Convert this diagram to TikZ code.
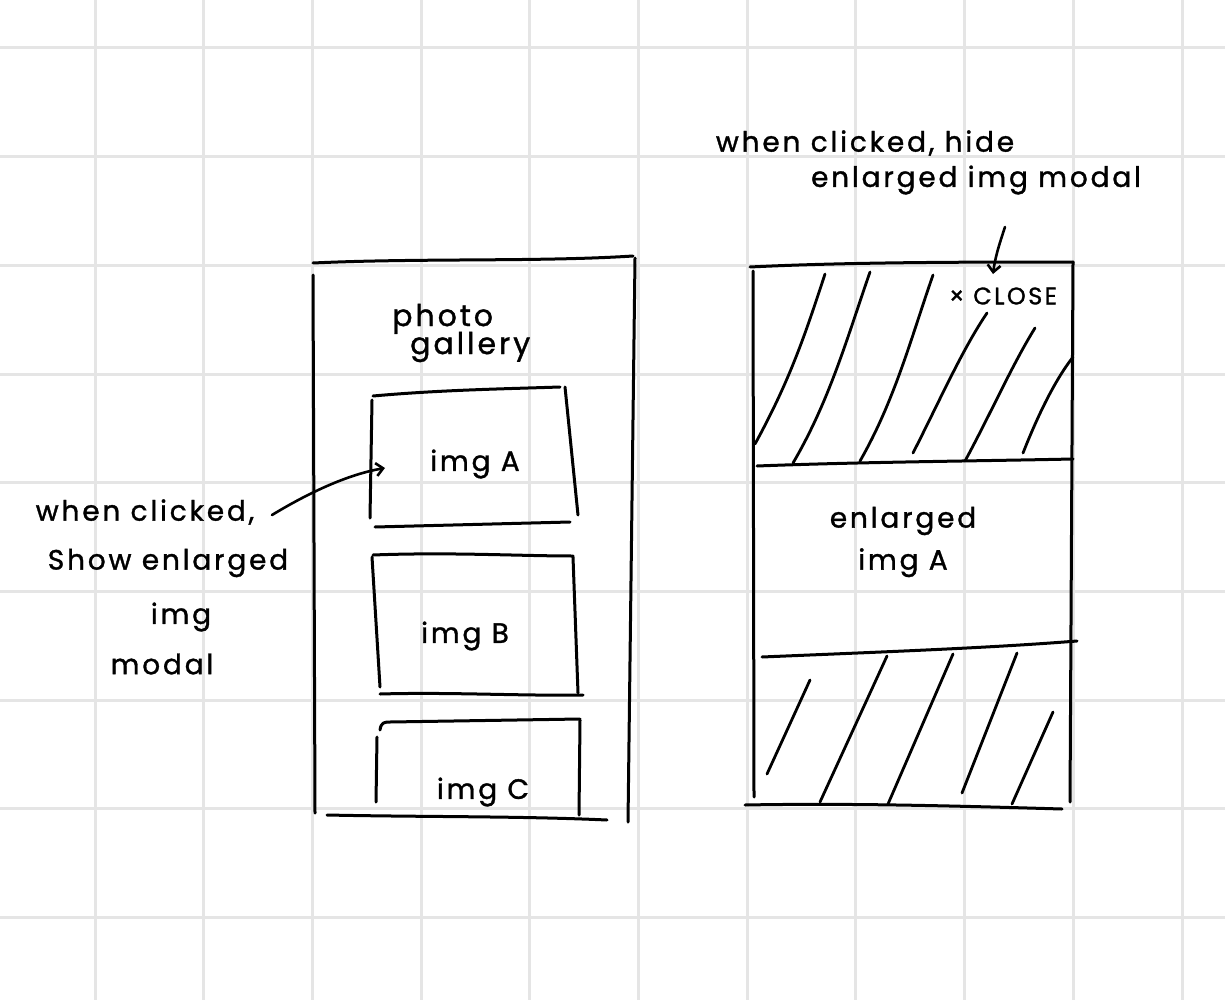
\documentclass[tikz,border=0pt]{standalone}
\usepackage{fontspec}
\setmainfont{Poppins}[LetterSpace=10, FakeBold=1.2]
\usetikzlibrary{arrows.meta}
\tikzset{
  gridline/.style={draw=black!10, line width=3pt},
  pen/.style={draw=black, line width=3pt, line cap=round, line join=round},
  hatch/.style={draw=black, line width=2.8pt, line cap=round},
  hand/.style={inner sep=0pt, font=\fontsize{28}{30}\selectfont},
  smallhand/.style={inner sep=0pt, font=\fontsize{24}{26}\selectfont},
  arrowpen/.style={draw=black, line width=2.6pt, line cap=round, -{Straight Barb[length=7pt,width=13pt,line width=2.6pt]}}
}
\begin{document}
\begin{tikzpicture}[x=1pt,y=-1pt]
\useasboundingbox[fill=white] (0,0) rectangle (1225,1000);
% grid
\foreach \i in {0,...,10} { \draw[gridline] (95+108.7*\i,0) -- (95+108.7*\i,1000); }
\foreach \j in {0,...,8} { \draw[gridline] (0,48+108.7*\j) -- (1225,48+108.7*\j); }

% ---------- left panel: photo gallery ----------
\draw[pen] (313,263) .. controls (420,258) and (540,262) .. (633,256);
\draw[pen] (313,275) -- (315,813);
\draw[pen] (635,258) -- (628,822);
\draw[pen] (327,815) .. controls (420,817) and (520,816) .. (607,820);
\node[hand, font=\fontsize{30}{30}\selectfont, align=left, anchor=west] (gallery) at (392,333) {photo\\[-2pt]\hspace*{18pt}gallery};

% img A
\draw[pen] (373,396) .. controls (440,390) and (500,389) .. (560,387);
\draw[pen] (372,400) -- (370,518);
\draw[pen] (565,387) -- (578,515);
\draw[pen] (375,527) -- (570,522);
\node[hand] (imgA) at (475,464) {img A};
\coordinate (imgAin) at (385,468);

% img B
\draw[pen] (373,555) .. controls (450,552) and (520,556) .. (573,556);
\draw[pen] (372,557) -- (380,687);
\draw[pen] (573,557) -- (578,693);
\draw[pen] (380,694) .. controls (450,692) and (520,696) .. (583,695);
\node[hand] (imgB) at (465,636) {img B};

% img C
\draw[pen] (380,730) .. controls (381,722) and (385,722) .. (390,722) -- (580,719);
\draw[pen] (377,737) -- (376,802);
\draw[pen] (580,720) -- (579,815);
\node[hand] (imgC) at (483,792) {img C};

% left annotation
\node[hand] (show1) at (145,512) {when clicked,};
\node[hand] (show2) at (168,563) {Show enlarged};
\node[hand] (show3) at (181,617) {img};
\node[hand] (show4) at (162,664) {modal};
\coordinate (showstart) at (272,515);
\draw[arrowpen] (showstart) .. controls (305,495) and (345,475) .. (imgAin);

% ---------- right panel: modal ----------
\draw[pen] (750,267) .. controls (850,262) and (980,262) .. (1073,262);
\draw[pen] (753,271) -- (754,797);
\draw[pen] (1073,262) -- (1070,802);
\draw[pen] (745,805) .. controls (850,803) and (960,806) .. (1062,809);
\draw[pen] (757,466) .. controls (860,462) and (980,461) .. (1073,459);
\draw[pen] (762,657) .. controls (880,652) and (990,648) .. (1077,641);

% upper hatching
\draw[hatch] (825,274) .. controls (805,335) and (790,380) .. (755,444);
\draw[hatch] (870,272) .. controls (848,335) and (830,400) .. (793,463);
\draw[hatch] (933,275) .. controls (912,335) and (895,400) .. (860,461);
\draw[hatch] (987,313) .. controls (962,350) and (940,400) .. (913,453);
\draw[hatch] (1035,328) .. controls (1012,365) and (990,415) .. (965,461);
\draw[hatch] (1073,357) .. controls (1055,380) and (1038,415) .. (1023,453);

% lower hatching
\draw[hatch] (810,680) -- (767,774);
\draw[hatch] (887,656) -- (820,802);
\draw[hatch] (953,654) -- (888,804);
\draw[hatch] (1017,653) -- (962,793);
\draw[hatch] (1053,712) -- (1012,804);

\node[hand, align=center] (enl) at (903,542) {enlarged\\[12pt]img A};
\node[smallhand] (close) at (1003,296) {× CLOSE};

% top annotation
\node[hand] (hide1) at (865,143) {when clicked, hide};
\node[hand] (hide2) at (976,180) {enlarged img modal};
\coordinate (arrtop) at (1005,227);
\coordinate (arrend) at (993,274);
\draw[arrowpen] (arrtop) .. controls (999,245) and (995,258) .. (arrend);
\end{tikzpicture}
\end{document}
